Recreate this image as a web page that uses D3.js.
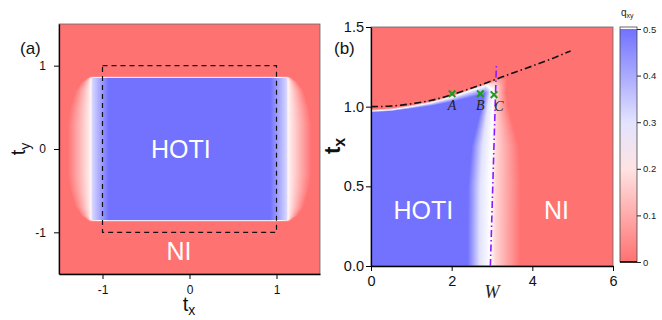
<!DOCTYPE html>
<html>
<head>
<meta charset="utf-8">
<script src="https://cdn.jsdelivr.net/npm/d3@7"></script>
<style>
  body { margin: 0; background: #fff; }
  svg { display: block; font-family: "Liberation Sans", Arial, sans-serif; }
</style>
</head>
<body>
<div id="chart"></div>
<script>
// ---- panel (a): t_x / t_y plane ----
var aTicks = [-1, 0, 1];
var aMinor = [-1.5, -1, -0.5, 0, 0.5, 1, 1.5];
var aBox = [-1, 1];                          // dashed square
var aEdgeTy = 0.86;                          // top / bottom edge of the HOTI block
var aProfTx = [0, 0.93, 1.12, 1.135];        // q_xy across |t_x|
var aProfQ = [0.5, 0.5, 0.32, 0.23];
var aFadeTy = [0, 0.3, 0.5, 0.7, 0.8, 0.86]; // |t_x| where the side fade reaches 0
var aFadeTx = [1.40, 1.40, 1.37, 1.31, 1.24, 1.16];

// ---- panel (b): W / t_x plane ----
var bTicksW = [0, 2, 4, 6];
var bMinorW = [0, 0.5, 1, 1.5, 2, 2.5, 3, 3.5, 4, 4.5, 5, 5.5, 6];
var bTicksT = [0, 0.5, 1.0, 1.5];
var bMinorT = [0, 0.25, 0.5, 0.75, 1.0, 1.25, 1.5];
// upper edge of the HOTI region (white level) and its blur below
var bTopW = [0, 0.5, 1, 1.5, 2, 2.5, 2.8, 3.0, 3.2];
var bTopTx = [0.972, 0.98, 1.0, 1.025, 1.06, 1.105, 1.13, 1.15, 1.17];
var bTopWidth = [0.008, 0.009, 0.012, 0.02, 0.03, 0.045, 0.05, 0.05, 0.05];
// right edge of the HOTI region
var bRightTx = [0, 0.25, 0.5, 0.75, 1.0, 1.1, 1.2];
var bRightW = [2.95, 2.95, 2.96, 2.99, 3.02, 3.05, 3.1];
var bRightScale = [1, 1, 1, 0.9, 0.5, 0.4, 0.4];
var bProfDW = [-0.55, -0.25, 0, 0.15, 0.75];
var bProfQ = [0.5, 0.3, 0.25, 0.17, 0];
// dash-dot phase boundaries
var bCurveW = [0, 0.5, 1, 1.5, 2, 2.5, 3, 3.5, 4, 4.5, 4.95];
var bCurveTx = [1.0, 1.004, 1.018, 1.04, 1.075, 1.117, 1.163, 1.21, 1.255, 1.303, 1.35];
var bLineW = [2.96, 3.11];
var bLineTx = [0, 1.27];
// marked points
var bPoints = ['A', 'B', 'C'];
var bPointW = [2.01, 2.71, 3.05];
var bPointTx = [1.081, 1.081, 1.075];

// ---- colour bar ----
var cTicks = [0, 0.1, 0.2, 0.3, 0.4, 0.5];

var W = 662, H = 320;
var svg = d3.select('#chart').append('svg').attr('width', W).attr('height', H);

var color = d3.scaleLinear().domain([0, 0.25, 0.5])
    .range(['#ff7272', '#ffffff', '#7272ff']).clamp(true);

var xa = d3.scaleLinear().domain([-1.5, 1.5]).range([59, 320]);
var ya = d3.scaleLinear().domain([-1.5, 1.5]).range([274, 24]);
var xb = d3.scaleLinear().domain([0, 6]).range([371, 613]);
var yb = d3.scaleLinear().domain([0, 1.5]).range([266, 27]);
var yc = d3.scaleLinear().domain([0, 0.5]).range([262, 29]);

function pw(xs, ys) { return d3.scaleLinear().domain(xs).range(ys).clamp(true); }

var profA = pw(aProfTx, aProfQ), fadeA = pw(aFadeTy, aFadeTx);
var vEdgeA = pw([aEdgeTy - 0.012, aEdgeTy + 0.012], [1, 0]);
function qA(tx, ty) {
  var ax = Math.abs(tx), ay = Math.abs(ty), h;
  if (ax <= 1.135) h = profA(ax);
  else {
    var o = fadeA(ay);
    h = Math.max(0, 0.23 * (1 - (ax - 1.135) / (o - 1.135)));
  }
  return h * vEdgeA(ay);
}

var topB = pw(bTopW, bTopTx), widB = pw(bTopW, bTopWidth);
var rightB = pw(bRightTx, bRightW), scB = pw(bRightTx, bRightScale);
var profB = pw(bProfDW, bProfQ);
function qB(w, tx) {
  var t = tx - topB(w), wd = widB(w);
  var qt = t <= 0 ? Math.min(0.5, 0.25 - 0.25 * t / wd) : Math.max(0, 0.25 - 0.25 * t / 0.012);
  var qr = profB((w - rightB(tx)) / scB(tx));
  return qt * qr / 0.5;
}

function paint(x, y, f) {
  var x0 = x.range()[0], y0 = y.range()[1];
  var w = Math.round(x.range()[1] - x0), h = Math.round(y.range()[0] - y0);
  var cv = document.createElement('canvas');
  cv.width = w; cv.height = h;
  var ctx = cv.getContext('2d');
  var img = ctx.createImageData(w, h);
  for (var j = 0; j < h; j++) {
    var vy = y.invert(y0 + j + 0.5);
    for (var i = 0; i < w; i++) {
      var c = d3.rgb(color(f(x.invert(x0 + i + 0.5), vy)));
      var k = (j * w + i) * 4;
      img.data[k] = c.r; img.data[k + 1] = c.g; img.data[k + 2] = c.b; img.data[k + 3] = 255;
    }
  }
  ctx.putImageData(img, 0, 0);
  svg.append('image').attr('x', x0).attr('y', y0).attr('width', w).attr('height', h)
    .attr('preserveAspectRatio', 'none').attr('href', cv.toDataURL());
  svg.append('rect').attr('x', x0).attr('y', y0).attr('width', w).attr('height', h)
    .attr('fill', 'none').attr('stroke', '#666').attr('stroke-width', 0.8);
}

paint(xa, ya, qA);
paint(xb, yb, qB);

function axes(x, y, xt, xm, yt, ym, fs, fmtX, fmtY, padX, padY) {
  var gx = svg.append('g').attr('transform', 'translate(0,' + y.range()[0] + ')');
  gx.call(d3.axisBottom(x).tickValues(xm).tickSize(3).tickSizeOuter(0).tickFormat(''));
  gx.call(d3.axisBottom(x).tickValues(xt).tickSize(5).tickSizeOuter(0).tickPadding(padX).tickFormat(fmtX));
  var gy = svg.append('g').attr('transform', 'translate(' + x.range()[0] + ',0)');
  gy.call(d3.axisLeft(y).tickValues(ym).tickSize(3).tickSizeOuter(0).tickFormat(''));
  gy.call(d3.axisLeft(y).tickValues(yt).tickSize(5).tickSizeOuter(0).tickPadding(padY).tickFormat(fmtY));
  [gx, gy].forEach(function (g) {
    g.selectAll('path.domain').attr('stroke', '#000').attr('stroke-width', 1.3);
    g.selectAll('line').attr('stroke', '#000').attr('stroke-width', 1);
    g.selectAll('text').attr('font-family', '"Liberation Sans", Arial, sans-serif')
      .attr('font-size', fs).attr('fill', '#111');
  });
}
axes(xa, ya, aTicks, aMinor, aTicks, aMinor, 12, String, String, 6, 8);
axes(xb, yb, bTicksW, bMinorW, bTicksT, bMinorT, 14.5, String, d3.format('.1f'), 5, 2);

// dashed square
svg.append('rect')
  .attr('x', xa(aBox[0])).attr('y', ya(aBox[1]))
  .attr('width', xa(aBox[1]) - xa(aBox[0])).attr('height', ya(aBox[0]) - ya(aBox[1]))
  .attr('fill', 'none').attr('stroke', '#111').attr('stroke-width', 1.2)
  .attr('stroke-dasharray', '5,4');

// phase boundaries in (b)
var curve = bCurveW.map(function (w, i) { return [w, bCurveTx[i]]; });
svg.append('path').datum(curve)
  .attr('d', d3.line().x(function (d) { return xb(d[0]); }).y(function (d) { return yb(d[1]); })
    .curve(d3.curveMonotoneX))
  .attr('fill', 'none').attr('stroke', '#111').attr('stroke-width', 1.6)
  .attr('stroke-dasharray', '7,3,1.5,3');
var vline = bLineW.map(function (w, i) { return [w, bLineTx[i]]; });
svg.append('path').datum(vline)
  .attr('d', d3.line().x(function (d) { return xb(d[0]); }).y(function (d) { return yb(d[1]); }))
  .attr('fill', 'none').attr('stroke', '#8c1aff').attr('stroke-width', 1.6)
  .attr('stroke-dasharray', '7,3,1.5,3');

// marked points
var labelDx = { A: 0, B: 0, C: 5 };
bPoints.forEach(function (p, i) {
  var px = xb(bPointW[i]), py = yb(bPointTx[i]), s = 3.3;
  svg.append('path')
    .attr('d', 'M' + (px - s) + ',' + (py - s) + 'L' + (px + s) + ',' + (py + s) +
      'M' + (px - s) + ',' + (py + s) + 'L' + (px + s) + ',' + (py - s))
    .attr('stroke', '#1f9a1f').attr('stroke-width', 2);
  svg.append('text').attr('x', px + labelDx[p]).attr('y', py + 16)
    .attr('text-anchor', 'middle').attr('font-family', '"Liberation Serif", "Times New Roman", serif')
    .attr('font-style', 'italic').attr('font-size', 14).attr('fill', '#222').text(p);
});

// phase names
function label(x, y, s) {
  svg.append('text').attr('x', x).attr('y', y).attr('text-anchor', 'middle')
    .attr('font-size', 25).attr('fill', '#fff').text(s);
}
label(xa(-0.1), 158, 'HOTI');
label(xa(-0.12), 260, 'NI');
label(xb(1.3), 219, 'HOTI');
label(xb(4.6), 219, 'NI');

// panel tags
svg.append('text').attr('x', 20).attr('y', 54).attr('font-size', 17).attr('fill', '#111').text('(a)');
svg.append('text').attr('x', 334).attr('y', 54).attr('font-size', 17).attr('fill', '#111').text('(b)');

// axis titles
var tX = svg.append('text').attr('x', 189).attr('y', 311).attr('text-anchor', 'middle')
  .attr('font-size', 20).attr('fill', '#111');
tX.append('tspan').text('t');
tX.append('tspan').attr('dy', 4).attr('font-size', 14).text('x');

var tY = svg.append('text').attr('transform', 'translate(25,149) rotate(-90)')
  .attr('text-anchor', 'middle').attr('font-size', 20).attr('fill', '#111');
tY.append('tspan').text('t');
tY.append('tspan').attr('dy', 5).attr('font-size', 14).text('y');

var tB = svg.append('text').attr('transform', 'translate(340,146) rotate(-90)')
  .attr('text-anchor', 'middle').attr('font-size', 22).attr('font-weight', 'bold').attr('fill', '#111');
tB.append('tspan').text('t');
tB.append('tspan').attr('dy', 5).attr('font-size', 16).text('x');

svg.append('text').attr('x', xb(3)).attr('y', 298).attr('text-anchor', 'middle')
  .attr('font-family', '"Liberation Serif", "Times New Roman", serif')
  .attr('font-style', 'italic').attr('font-size', 18).attr('fill', '#222').text('W');

// colour bar
var defs = svg.append('defs');
var grad = defs.append('linearGradient').attr('id', 'cb')
  .attr('x1', 0).attr('y1', 1).attr('x2', 0).attr('y2', 0);
grad.selectAll('stop').data(cTicks).enter().append('stop')
  .attr('offset', function (d) { return d / 0.5; })
  .attr('stop-color', function (d) { return color(d); });
svg.append('rect').attr('x', 620).attr('y', yc(0.5)).attr('width', 17)
  .attr('height', yc(0) - yc(0.5)).attr('fill', 'url(#cb)');
svg.append('rect').attr('x', 620).attr('y', yc(0.5) - 2).attr('width', 17).attr('height', 2)
  .attr('fill', '#fff');
svg.append('rect').attr('x', 620).attr('y', yc(0.5) - 2).attr('width', 17)
  .attr('height', yc(0) - yc(0.5) + 2).attr('fill', 'none').attr('stroke', '#444').attr('stroke-width', 0.8);
svg.append('line').attr('x1', 620).attr('x2', 637).attr('y1', yc(0)).attr('y2', yc(0))
  .attr('stroke', '#000').attr('stroke-width', 1.5);
var gc = svg.append('g').attr('transform', 'translate(637,0)')
  .call(d3.axisRight(yc).tickValues(cTicks).tickSize(4).tickPadding(2)
    .tickFormat(function (d) { return d === 0 ? '0' : d3.format('.1f')(d); }));
gc.select('path.domain').remove();
gc.selectAll('line').attr('stroke', '#222');
gc.selectAll('text').attr('font-family', '"Liberation Sans", Arial, sans-serif')
  .attr('font-size', 9.5).attr('fill', '#222');

var qt = svg.append('text').attr('x', 621).attr('y', 16).attr('font-size', 10).attr('fill', '#222');
qt.append('tspan').text('q');
qt.append('tspan').attr('dy', 2).attr('font-size', 7).text('xy');
</script>
</body>
</html>
